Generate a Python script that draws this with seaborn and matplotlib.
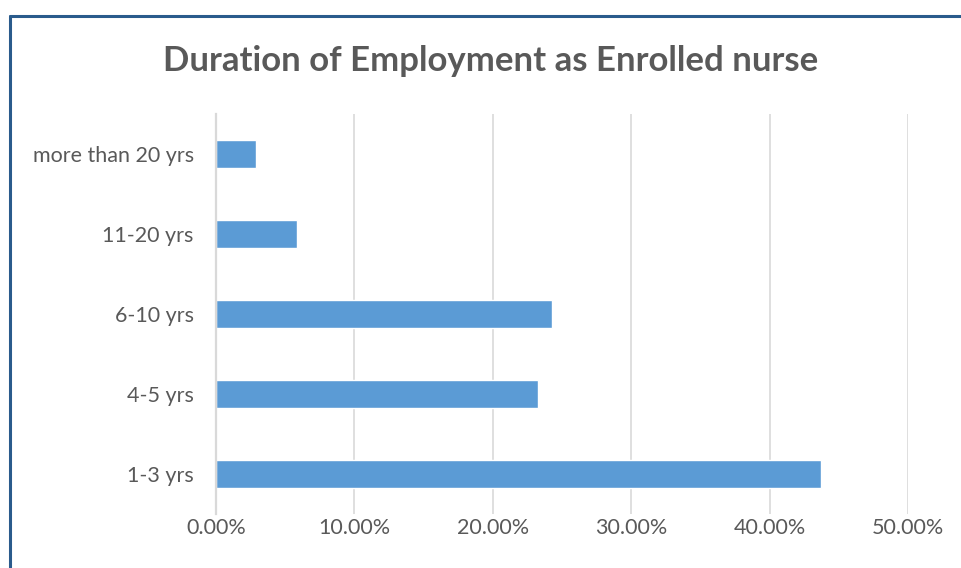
import matplotlib
matplotlib.use("Agg")
import matplotlib.pyplot as plt
from matplotlib.lines import Line2D
from matplotlib.ticker import PercentFormatter
import seaborn as sns
import pandas as pd

categories = ["more than 20 yrs", "11-20 yrs", "6-10 yrs", "4-5 yrs", "1-3 yrs"]
percentages = [2.91, 5.83, 24.27, 23.30, 43.69]
x_ticks = [0, 10, 20, 30, 40, 50]

sns.set_theme(style="white")
plt.rcParams["font.family"] = ["Lato", "DejaVu Sans"]

df = pd.DataFrame({"duration": categories, "share": percentages})

W, H = 962, 568
fig = plt.figure(figsize=(W / 100, H / 100), dpi=100)
ax = fig.add_axes([216 / W, 1 - 514 / H, (908 - 216) / W, (514 - 114) / H])

sns.barplot(data=df, x="share", y="duration", order=categories, orient="h",
            color="#5B9BD5", saturation=1, width=0.35, ax=ax, zorder=3)

ax.set_xlim(0, 50)
ax.set_ylim(len(categories) - 0.5, -0.5)
ax.set_xticks(x_ticks)
ax.xaxis.set_major_formatter(PercentFormatter(decimals=2))
ax.grid(axis="x", color="#d9d9d9", linewidth=1.2, zorder=0)
ax.grid(axis="y", visible=False)
for s in ["top", "right", "bottom"]:
    ax.spines[s].set_visible(False)
ax.spines["left"].set_color("#d9d9d9")
ax.spines["left"].set_linewidth(1.6)
ax.spines["left"].set_zorder(4)
ax.tick_params(axis="both", length=0, labelsize=15.5, colors="#595959")
ax.tick_params(axis="y", pad=16)
ax.tick_params(axis="x", pad=3)
ax.set_xlabel("")
ax.set_ylabel("")

fig.text(491 / W, 1 - 61 / H, "Duration of Employment as Enrolled nurse",
         ha="center", va="center", fontsize=25, fontweight="bold", color="#595959")

# frame lines along the left and top edges
fig.add_artist(Line2D([10 / W, 10 / W], [0, 1 - 16 / H], transform=fig.transFigure,
                      color="#2a5b8c", linewidth=2.2))
fig.add_artist(Line2D([10 / W, 1], [1 - 16 / H, 1 - 16 / H], transform=fig.transFigure,
                      color="#2a5b8c", linewidth=2.2))

fig.savefig("out.png", dpi=100, facecolor="white")
